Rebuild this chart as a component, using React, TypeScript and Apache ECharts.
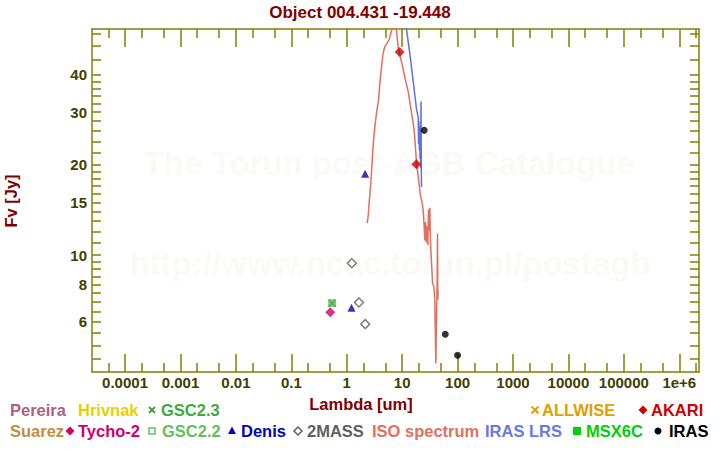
import React, { useEffect, useRef } from 'react';
import * as echarts from 'echarts';

const titleText = 'Object 004.431 -19.448';
const xAxisName = 'Lambda [um]';
const yAxisName = 'Fv [Jy]';

// log10 decades of the x axis and their labels
const xDecades = [-4, -3, -2, -1, 0, 1, 2, 3, 4, 5, 6];
const xDecadeLabels = ['0.0001', '0.001', '0.01', '0.1', '1', '10', '100', '1000', '10000', '100000', '1e+6'];
const xMinorMultipliers = [2, 5];

// y axis (Jy)
const yLabelValues = [6, 8, 10, 15, 20, 30, 40];
const yTickValues = [4.5, 5, 5.5, 6, 6.5, 7, 7.5, 8, 8.5, 9, 9.5, 10, 11, 12, 13, 14, 15, 16, 17, 18, 19, 20, 22, 24, 26, 28, 30, 32, 34, 36, 38, 40, 45, 50, 55];

// axis extents (wavelength in um, flux in Jy)
const xMinLambda = 2.535e-5;
const xMaxLambda = 2.27e6;
const yMinFlux = 4.078;
const yMaxFlux = 56.85;

// ISO spectrum
const isoLambda = [2.34, 2.45, 2.53, 2.69, 2.84, 3.0, 3.22, 3.45, 3.75, 3.96, 4.25, 4.54, 4.87, 5.36, 5.82, 6.25, 6.51, 7.0, 7.6, 8.26, 8.48, 9.36, 10.0, 10.6, 11.2, 12.0, 12.8, 13.4, 14.3, 15.2, 16.3, 16.9, 18.2, 19.5, 21.5, 22.4, 23.9, 24.9, 25.7, 26.4, 27.5, 28.2, 29.1, 29.9, 30.7, 31.6, 32.5, 33.9, 35.4, 37.3, 38.9, 39.4, 40.6, 41.4, 42.8, 43.5, 44.0, 44.6];
const isoFlux = [12.8, 13.6, 14.9, 16.9, 19.8, 23.3, 26.9, 29.8, 33.0, 37.5, 42.6, 47.2, 49.7, 51.0, 52.4, 55.1, 56.5, 59.0, 60.0, 51.8, 49.2, 45.6, 43.3, 41.1, 39.1, 37.1, 35.3, 33.5, 31.0, 28.8, 26.6, 24.6, 20.3, 18.3, 15.7, 15.3, 14.2, 12.6, 11.2, 12.9, 11.0, 12.5, 10.8, 14.2, 12.1, 14.4, 11.0, 9.4, 8.07, 7.86, 7.09, 5.93, 4.36, 5.64, 8.07, 11.8, 7.1, 7.6];

// IRAS LRS spectrum
const lrsLambda = [8.0, 9.0, 10.0, 11.0, 12.0, 12.8, 13.8, 14.8, 15.8, 16.9, 18.2, 19.0, 19.5, 19.8, 20.1, 20.4, 20.7, 21.0, 21.3, 21.6, 21.9, 22.2, 22.4];
const lrsFlux = [95, 85, 74, 64, 56.5, 51.9, 46.8, 42.2, 38.1, 34.3, 30.6, 29.5, 28.7, 23.5, 28.0, 22.5, 27.0, 21.0, 25.0, 19.5, 32.6, 18.5, 16.9];

// photometry
const akariLambda = [9, 18];
const akariFlux = [47.6, 20.1];
const irasLambda = [25, 60, 100];
const irasFlux = [26.1, 5.45, 4.64];
const denisLambda = [1.22, 2.15];
const denisFlux = [6.68, 18.7];
const twomassLambda = [1.235, 1.662, 2.159];
const twomassFlux = [9.4, 6.96, 5.89];
const tychoLambda = [0.505];
const tychoFlux = [6.45];
const gsc22Lambda = [0.545];
const gsc22Flux = [6.92];
const gsc23Lambda = [0.545];
const gsc23Flux = [6.92];

const L = Math.log10;
const pairs = (xs: number[], ys: number[]) => xs.map((x, i) => [L(x), L(ys[i])]);

const FONT = '"Liberation Sans", Arial, sans-serif';
const OLIVE = '#808000';
const LABEL = '#404000';
const DARKRED = '#800000';

const crossPath = 'path://M0,1L1,0L5,4L9,0L10,1L6,5L10,9L9,10L5,6L1,10L0,9L4,5Z';

const xMinorTicks: number[] = [];
for (let d = -5; d <= 6; d++) {
  for (const m of xMinorMultipliers) {
    const v = d + L(m);
    if (v > L(xMinLambda) && v < L(xMaxLambda)) xMinorTicks.push(v);
  }
}
const xMajorTicks = xDecades.slice();

function xAxisDef(position: 'top' | 'bottom', major: boolean, showLine: boolean, showLabel: boolean) {
  return {
    type: 'value',
    gridIndex: 0,
    position,
    min: L(xMinLambda),
    max: L(xMaxLambda),
    axisLine: { show: showLine, onZero: false, lineStyle: { color: OLIVE, width: 1.5 } },
    axisTick: {
      show: true,
      inside: true,
      length: major ? 18 : 9,
      customValues: major ? xMajorTicks : xMinorTicks,
      lineStyle: { color: OLIVE, width: 1.5 },
    },
    axisLabel: showLabel
      ? {
          show: true,
          customValues: xMajorTicks,
          margin: 3,
          color: LABEL,
          fontWeight: 'bold',
          fontSize: 15,
          fontFamily: FONT,
          formatter: (v: number) => {
            const i = xDecades.findIndex((d) => Math.abs(d - v) < 1e-6);
            return i >= 0 ? xDecadeLabels[i] : '';
          },
        }
      : { show: false },
    splitLine: { show: false },
  };
}

function yAxisDef(position: 'left' | 'right', showLabel: boolean) {
  return {
    type: 'value',
    gridIndex: 0,
    position,
    min: L(yMinFlux),
    max: L(yMaxFlux),
    axisLine: { show: true, onZero: false, lineStyle: { color: OLIVE, width: 1.5 } },
    axisTick: {
      show: true,
      inside: true,
      length: 9,
      customValues: yTickValues.map(L),
      lineStyle: { color: OLIVE, width: 1.5 },
    },
    axisLabel: showLabel
      ? {
          show: true,
          customValues: yLabelValues.map(L),
          margin: 5,
          color: LABEL,
          fontWeight: 'bold',
          fontSize: 15,
          fontFamily: FONT,
          formatter: (v: number) => String(Math.round(Math.pow(10, v))),
        }
      : { show: false },
    splitLine: { show: false },
  };
}

const LEG_FONT = `bold 16.5px ${FONT}`;
const ROW1 = 410;
const ROW2 = 431;

function legText(text: string, x: number, y: number, fill: string) {
  return { type: 'text', x, y, style: { text, fill, font: LEG_FONT, align: 'left', verticalAlign: 'middle' } };
}
function diamond(cx: number, cy: number, r: number, fill: string, stroke?: string) {
  return {
    type: 'polygon',
    shape: { points: [[cx, cy - r], [cx + r, cy], [cx, cy + r], [cx - r, cy]] },
    style: stroke ? { fill: '#fff', stroke, lineWidth: 1.5 } : { fill },
  };
}
function cross(cx: number, cy: number, r: number, stroke: string) {
  return {
    type: 'group',
    children: [
      { type: 'line', shape: { x1: cx - r, y1: cy - r, x2: cx + r, y2: cy + r }, style: { stroke, lineWidth: 2 } },
      { type: 'line', shape: { x1: cx - r, y1: cy + r, x2: cx + r, y2: cy - r }, style: { stroke, lineWidth: 2 } },
    ],
  };
}

const option: any = {
  animation: false,
  backgroundColor: '#ffffff',
  grid: { left: 92, right: 21, top: 29, bottom: 78, containLabel: false },
  xAxis: [
    xAxisDef('bottom', true, true, true),
    xAxisDef('bottom', false, false, false),
    xAxisDef('top', true, true, false),
    xAxisDef('top', false, false, false),
  ],
  yAxis: [yAxisDef('left', true), yAxisDef('right', false)],
  graphic: [
    {
      type: 'text', x: 389, y: 163, z: -10,
      style: { text: 'The Torun post-AGB Catalogue', fill: '#fcfaf7', font: `bold 33px ${FONT}`, align: 'center', verticalAlign: 'middle' },
    },
    {
      type: 'text', x: 390, y: 263, z: -10,
      style: { text: 'http://www.ncac.torun.pl/postagb', fill: '#fcfaf7', font: `bold 33px ${FONT}`, align: 'center', verticalAlign: 'middle' },
    },
    {
      type: 'text', x: 360, y: 12,
      style: { text: titleText, fill: DARKRED, font: `bold 17px ${FONT}`, align: 'center', verticalAlign: 'middle' },
    },
    {
      type: 'text', x: 361, y: 404,
      style: { text: xAxisName, fill: DARKRED, font: `bold 16.5px ${FONT}`, align: 'center', verticalAlign: 'middle' },
    },
    {
      type: 'text', x: 11, y: 201, rotation: Math.PI / 2,
      style: { text: yAxisName, fill: DARKRED, font: `bold 16.5px ${FONT}`, align: 'center', verticalAlign: 'middle' },
    },
    // legend row 1
    legText('Pereira', 10, ROW1, '#b0607f'),
    legText('Hrivnak', 78, ROW1, '#e8d000'),
    cross(152, ROW1, 3, '#40a040'),
    legText('GSC2.3', 161, ROW1, '#40a840'),
    cross(535, ROW1, 3.5, '#e0a000'),
    legText('ALLWISE', 542, ROW1, '#e0a000'),
    diamond(643, ROW1, 4.5, '#d00000'),
    legText('AKARI', 651, ROW1, '#d00000'),
    // legend row 2
    legText('Suarez', 10, ROW2, '#c09040'),
    diamond(70, ROW2, 4.5, '#d0006a'),
    legText('Tycho-2', 78, ROW2, '#d0006a'),
    { type: 'rect', shape: { x: 149, y: ROW2 - 3, width: 6, height: 6 }, style: { fill: '#fff', stroke: '#60c060', lineWidth: 1.5 } },
    legText('GSC2.2', 162, ROW2, '#60c060'),
    { type: 'polygon', shape: { points: [[232, ROW2 - 4.5], [236, ROW2 + 3], [228, ROW2 + 3]] }, style: { fill: '#0000c0' } },
    legText('Denis', 241, ROW2, '#0000c0'),
    diamond(298, ROW2, 4, '#fff', '#606060'),
    legText('2MASS', 307, ROW2, '#606060'),
    legText('ISO spectrum', 372, ROW2, '#e07060'),
    legText('IRAS LRS', 485, ROW2, '#6a78e0'),
    { type: 'rect', shape: { x: 573, y: ROW2 - 4, width: 8, height: 8 }, style: { fill: '#00d000' } },
    legText('MSX6C', 586, ROW2, '#00d000'),
    { type: 'circle', shape: { cx: 658, cy: ROW2, r: 3.5 }, style: { fill: '#000' } },
    legText('IRAS', 669, ROW2, '#000000'),
  ],
  series: [
    {
      name: 'ISO spectrum', type: 'line', xAxisIndex: 0, yAxisIndex: 0,
      data: pairs(isoLambda, isoFlux), showSymbol: false, clip: true,
      lineStyle: { color: '#e07060', width: 1.5 }, z: 2,
    },
    {
      name: 'IRAS LRS', type: 'line', xAxisIndex: 0, yAxisIndex: 0,
      data: pairs(lrsLambda, lrsFlux), showSymbol: false, clip: true,
      lineStyle: { color: '#6070e0', width: 1.5 }, z: 3,
    },
    {
      name: 'GSC2.2', type: 'scatter', xAxisIndex: 0, yAxisIndex: 0,
      data: pairs(gsc22Lambda, gsc22Flux), symbol: 'rect', symbolSize: 8,
      itemStyle: { color: '#5cc05c' }, z: 4,
    },
    {
      name: 'GSC2.3', type: 'scatter', xAxisIndex: 0, yAxisIndex: 0,
      data: pairs(gsc23Lambda, gsc23Flux), symbol: crossPath, symbolSize: 8,
      itemStyle: { color: '#3f9f3f' }, z: 5,
    },
    {
      name: 'Tycho-2', type: 'scatter', xAxisIndex: 0, yAxisIndex: 0,
      data: pairs(tychoLambda, tychoFlux), symbol: 'diamond', symbolSize: 10,
      itemStyle: { color: '#d0006a' }, z: 5,
    },
    {
      name: 'Denis', type: 'scatter', xAxisIndex: 0, yAxisIndex: 0,
      data: pairs(denisLambda, denisFlux), symbol: 'triangle', symbolSize: 8,
      itemStyle: { color: '#0000c0' }, z: 5,
    },
    {
      name: '2MASS', type: 'scatter', xAxisIndex: 0, yAxisIndex: 0,
      data: pairs(twomassLambda, twomassFlux), symbol: 'diamond', symbolSize: 9,
      itemStyle: { color: '#ffffff', borderColor: '#606060', borderWidth: 1.5 }, z: 5,
    },
    {
      name: 'AKARI', type: 'scatter', xAxisIndex: 0, yAxisIndex: 0,
      data: pairs(akariLambda, akariFlux), symbol: 'diamond', symbolSize: 10,
      itemStyle: { color: '#d00000' }, z: 6,
    },
    {
      name: 'IRAS', type: 'scatter', xAxisIndex: 0, yAxisIndex: 0,
      data: pairs(irasLambda, irasFlux), symbol: 'circle', symbolSize: 7,
      itemStyle: { color: '#000000' }, z: 6,
    },
  ],
};

export default function App() {
  const ref = useRef<HTMLDivElement>(null);
  useEffect(() => {
    if (!ref.current) return;
    const chart = echarts.init(ref.current, null, { renderer: 'svg' });
    chart.setOption(option);
    return () => chart.dispose();
  }, []);
  return <div ref={ref} style={{ position: 'fixed', left: 0, top: 0, width: 720, height: 450 }} />;
}
